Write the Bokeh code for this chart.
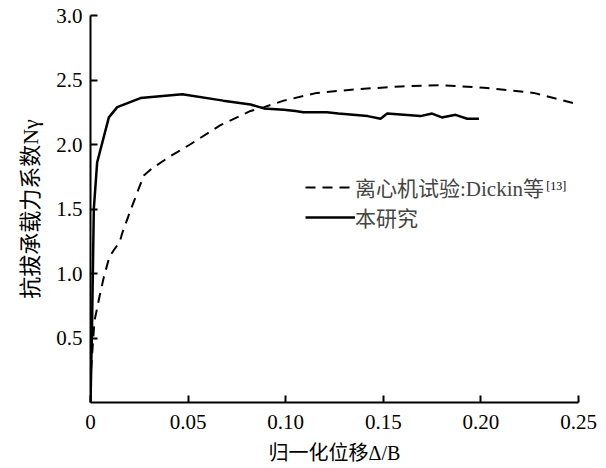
from bokeh.plotting import figure
from bokeh.models import Legend, LegendItem, Label, FixedTicker, Range1d
from bokeh.embed import file_html
from bokeh.resources import INLINE

# ---- data ----
dickin_x = [0.0003, 0.002, 0.0046, 0.0068, 0.0097, 0.0119, 0.015, 0.0162, 0.0205,
            0.0273, 0.032, 0.041, 0.051, 0.0666, 0.082, 0.089, 0.099, 0.116,
            0.138, 0.159, 0.179, 0.2015, 0.227, 0.25]
dickin_y = [0.25, 0.63, 0.82, 0.97, 1.13, 1.18, 1.245, 1.31, 1.49,
            1.76, 1.82, 1.91, 2.0, 2.15, 2.26, 2.29, 2.34, 2.40,
            2.43, 2.45, 2.46, 2.44, 2.40, 2.31]

study_x = [0.0, 0.0008, 0.0017, 0.0034, 0.0094, 0.0137, 0.0256, 0.047, 0.068,
           0.082, 0.0888, 0.099, 0.105, 0.109, 0.121, 0.127, 0.142, 0.1486,
           0.152, 0.169, 0.175, 0.180, 0.187, 0.193, 0.199]
study_y = [0.0, 0.6, 1.5, 1.86, 2.21, 2.29, 2.36, 2.39, 2.34,
           2.31, 2.28, 2.27, 2.26, 2.25, 2.25, 2.24, 2.22, 2.20,
           2.24, 2.22, 2.24, 2.21, 2.23, 2.20, 2.20]

x_ticks = [0, 0.05, 0.10, 0.15, 0.20, 0.25]
x_tick_labels = ["0", "0.05", "0.10", "0.15", "0.20", "0.25"]
y_ticks = [0.5, 1.0, 1.5, 2.0, 2.5, 3.0]
y_tick_labels = ["0.5", "1.0", "1.5", "2.0", "2.5", "3.0"]

label_dickin = "离心机试验:Dickin等"
label_ref = "[13]"
label_study = "本研究"
x_title = "归一化位移Δ/B"
y_title = "抗拔承载力系数Nγ"

FONT = "Liberation Serif, Noto Sans CJK SC"

p = figure(width=606, height=468, output_backend="svg", toolbar_location=None,
           x_range=Range1d(0, 0.25), y_range=Range1d(0, 3.0),
           min_border_left=90, min_border_right=28, min_border_top=15,
           min_border_bottom=66)
p.outline_line_color = None
p.xgrid.visible = False
p.ygrid.visible = False
p.background_fill_color = "white"
p.border_fill_color = "white"

r1 = p.line(dickin_x, dickin_y, line_color="black", line_width=2, line_dash="10 7")
r2 = p.line(study_x, study_y, line_color="black", line_width=2.5)

for ax in (p.xaxis[0], p.yaxis[0]):
    ax.axis_line_width = 2
    ax.axis_line_color = "black"
    ax.major_tick_in = 7
    ax.major_tick_out = 0
    ax.major_tick_line_width = 2
    ax.minor_tick_line_color = None
    ax.major_label_text_font = FONT
    ax.major_label_text_font_size = "21px"
    ax.major_label_text_color = "black"
    ax.axis_label_text_font = FONT
    ax.axis_label_text_font_style = "normal"
    ax.axis_label_text_color = "black"

p.xaxis[0].ticker = FixedTicker(ticks=x_ticks)
p.xaxis[0].major_label_overrides = {t: l for t, l in zip(x_ticks, x_tick_labels)}
p.xaxis[0].major_label_standoff = 12
p.xaxis[0].axis_label = x_title
p.xaxis[0].axis_label_text_font_size = "20px"
p.xaxis[0].axis_label_standoff = 10

p.yaxis[0].ticker = FixedTicker(ticks=y_ticks)
p.yaxis[0].major_label_overrides = {t: l for t, l in zip(y_ticks, y_tick_labels)}
p.yaxis[0].major_label_standoff = 8
p.yaxis[0].axis_label = y_title
p.yaxis[0].axis_label_text_font_size = "22px"
p.yaxis[0].axis_label_standoff = 10

legend = Legend(items=[LegendItem(label=label_dickin, renderers=[r1]),
                       LegendItem(label=label_study, renderers=[r2])],
                location=(215, 170), orientation="vertical",
                label_text_font=FONT, label_text_font_size="21px",
                glyph_width=50, glyph_height=20, label_height=20,
                label_standoff=0, spacing=0, padding=0, margin=0,
                border_line_color=None, background_fill_alpha=0)
p.add_layout(legend)

p.add_layout(Label(x=0.2335, y=1.68, text=label_ref, text_font=FONT,
                   text_font_size="12px", text_align="left",
                   text_baseline="middle", text_color="black"))

open("out.html", "w").write(file_html(p, INLINE))
